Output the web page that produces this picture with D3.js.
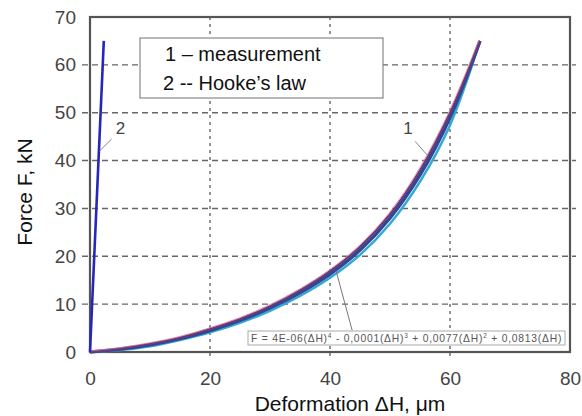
<!DOCTYPE html>
<html><head><meta charset="utf-8">
<script src="https://cdn.jsdelivr.net/npm/d3@7"></script>
<style>body{margin:0;background:#fff}svg{display:block}</style>
</head><body>
<script>
const deformation = [0,5,10,15,20,25,30,35,40,45,50,55,60,65];
const loadingNavy  = [0,0.6,1.5,2.8,4.5,6.6,9.2,12.4,16.3,21.3,28.0,37.0,49.0,65];
const cycleCyan    = [0,0.4,1.2,2.5,4.1,6.1,8.6,11.7,15.5,20.3,26.8,35.6,47.4,65];
const cyclePurple  = [0,0.7,1.7,3.0,4.8,6.9,9.6,12.9,16.9,22.0,28.8,38.0,50.0,65];
const hookeH = [0, 2.3];
const hookeF = [0, 65];
const xTicks = [0,20,40,60,80];
const yTicks = [0,10,20,30,40,50,60,70];
const legendLines = ["1 \u2013 measurement", "2 -- Hooke\u2019s law"];

const W=582,H=416;
const m={l:90,r:12,t:17,b:64};
const svg=d3.select("body").append("svg").attr("width",W).attr("height",H);
const x=d3.scaleLinear().domain([0,80]).range([m.l,W-m.r]);
const y=d3.scaleLinear().domain([0,70]).range([H-m.b,m.t]);
const font="Arial, 'Liberation Sans', sans-serif";

// grid
svg.append("g").selectAll("line").data(yTicks.filter(d=>d>0&&d<70)).join("line")
 .attr("x1",x(0)-8).attr("x2",x(80)+6).attr("y1",d=>y(d)).attr("y2",d=>y(d))
 .attr("stroke","#666").attr("stroke-width",1.4).attr("stroke-dasharray","6,4");
svg.append("g").selectAll("line").data(xTicks.filter(d=>d>0&&d<80)).join("line")
 .attr("x1",d=>x(d)).attr("x2",d=>x(d)).attr("y1",y(70)).attr("y2",y(0)+4)
 .attr("stroke","#666").attr("stroke-width",1.4).attr("stroke-dasharray","3,4");

// tick labels via axes
const yAxis=svg.append("g").attr("transform",`translate(${x(0)},0)`)
 .call(d3.axisLeft(y).tickValues(yTicks).tickSize(0).tickPadding(14));
const xAxis=svg.append("g").attr("transform",`translate(0,${y(0)})`)
 .call(d3.axisBottom(x).tickValues(xTicks).tickSize(0).tickPadding(20));
[yAxis,xAxis].forEach(a=>{a.select(".domain").remove();
 a.selectAll("text").attr("font-family",font).attr("font-size",19).attr("fill","#444");});

// border
svg.append("rect").attr("x",x(0)).attr("y",y(70)).attr("width",x(80)-x(0)).attr("height",y(0)-y(70))
 .attr("fill","none").attr("stroke","#555").attr("stroke-width",2.2);

// curves
const line=d3.line().x(d=>x(d[0])).y(d=>y(d[1])).curve(d3.curveCatmullRom.alpha(0.5));
const mk=arr=>deformation.map((h,i)=>[h,arr[i]]);
const g=svg.append("g");
g.append("path").attr("d",line(mk(cycleCyan))).attr("fill","none").attr("stroke","#33a9d6").attr("stroke-width",2.5);
g.append("path").attr("d",line(mk(loadingNavy))).attr("fill","none").attr("stroke","#2f4795").attr("stroke-width",3.5);
g.append("path").attr("d",line(mk(cyclePurple))).attr("fill","none").attr("stroke","#6b3a78").attr("stroke-width",2);
g.append("path").attr("d",line(mk(cyclePurple))).attr("fill","none").attr("stroke","#e07a9a").attr("stroke-width",0.8).attr("transform","translate(-1,-1)");

// Hooke
svg.append("path").attr("d",d3.line().x(d=>x(d[0])).y(d=>y(d[1]))(hookeH.map((h,i)=>[h,hookeF[i]])))
 .attr("fill","none").attr("stroke","#2626bb").attr("stroke-width",2.6);

// labels with leaders
svg.append("line").attr("x1",x(1.6)).attr("y1",y(42)).attr("x2",x(3.6)).attr("y2",y(44.5)).attr("stroke","#888").attr("stroke-width",1);
svg.append("text").attr("x",x(4.3)).attr("y",y(45.5)).text("2").attr("font-family",font).attr("font-size",17).attr("fill","#444");
svg.append("line").attr("x1",x(54.2)).attr("y1",y(44)).attr("x2",x(56.3)).attr("y2",y(41)).attr("stroke","#888").attr("stroke-width",1);
svg.append("text").attr("x",x(52.2)).attr("y",y(45.5)).text("1").attr("font-family",font).attr("font-size",17).attr("fill","#444");

// legend
const lg=svg.append("g");
lg.append("rect").attr("x",140).attr("y",38).attr("width",243).attr("height",60).attr("fill","#fff").attr("stroke","#888").attr("stroke-width",1.2);
lg.selectAll("text").data(legendLines).join("text").attr("x",(d,i)=>i?163:165).attr("y",(d,i)=>61+i*29)
 .text(d=>d).attr("font-family",font).attr("font-size",20).attr("fill","#111");

// equation box with leader
svg.append("line").attr("x1",x(41)).attr("y1",y(17)).attr("x2",x(43.7)).attr("y2",y(4.5)).attr("stroke","#777").attr("stroke-width",1);
svg.append("rect").attr("x",248).attr("y",331).attr("width",317).attr("height",14).attr("fill","#fff").attr("stroke","#aaa").attr("stroke-width",1);
const eq=svg.append("text").attr("x",251).attr("y",342).attr("font-family",font).attr("font-size",10.3).attr("letter-spacing",0.78).attr("fill","#555");
eq.append("tspan").text("F = 4E-06(\u0394H)");
eq.append("tspan").text("4").attr("font-size",6.5).attr("dy",-4);
eq.append("tspan").text(" - 0,0001(\u0394H)").attr("dy",4);
eq.append("tspan").text("3").attr("font-size",6.5).attr("dy",-4);
eq.append("tspan").text(" + 0,0077(\u0394H)").attr("dy",4);
eq.append("tspan").text("2").attr("font-size",6.5).attr("dy",-4);
eq.append("tspan").text(" + 0,0813(\u0394H)").attr("dy",4);

// axis titles
svg.append("text").attr("x",350).attr("y",411).attr("text-anchor","middle").attr("font-family",font).attr("font-size",21).attr("fill","#111")
 .text("Deformation \u0394H, \u03bcm");
svg.append("text").attr("transform","translate(32,192) rotate(-90)").attr("text-anchor","middle").attr("font-family",font).attr("font-size",21).attr("fill","#111")
 .text("Force F, kN");
</script>
</body></html>
